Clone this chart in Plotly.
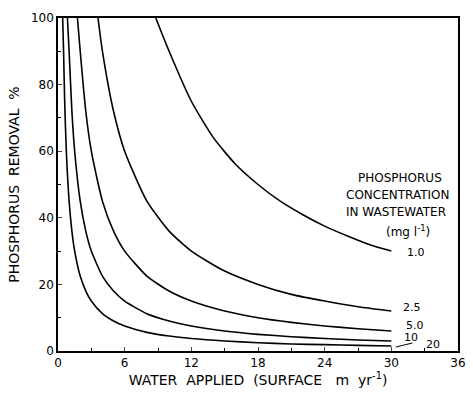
import plotly.graph_objects as go

# Phosphorus removal (%) vs water applied (m/yr)
x_c1 = [8.8, 10, 12, 14, 16, 18, 20, 22, 24, 26, 28, 30]
y_c1 = [100, 90, 75, 64, 56, 50, 45, 41, 37.5, 34.6, 32, 30]

x_c25 = [3.6, 4, 5, 6, 8, 10, 12, 15, 18, 21, 24, 27, 30]
y_c25 = [100, 90, 72, 60, 45, 36, 30, 24, 20, 17, 15, 13.3, 12]

x_c5 = [1.75, 2, 2.5, 3, 4, 5, 6, 8, 10, 12, 15, 18, 21, 24, 27, 30]
y_c5 = [100, 90, 72, 60, 45, 36, 30, 22.5, 18, 15, 12, 10, 8.6, 7.5, 6.7, 6]

x_c10 = [0.85, 1, 1.25, 1.5, 2, 2.5, 3, 4, 5, 6, 8, 10, 12, 15, 18, 21, 24, 27, 30]
y_c10 = [100, 90, 72, 60, 45, 36, 30, 22.5, 18, 15, 11.2, 9, 7.5, 6, 5, 4.3, 3.75, 3.3, 3]

x_c20 = [0.42, 0.5, 0.6, 0.75, 1, 1.25, 1.5, 2, 2.5, 3, 4, 5, 6, 8, 10, 12, 15, 18, 21, 24, 27, 30]
y_c20 = [100, 90, 75, 60, 45, 36, 30, 22.5, 18, 15, 11.2, 9, 7.5, 5.6, 4.5, 3.75, 3, 2.5, 2.1, 1.9, 1.7, 1.5]

curve_labels = ["1.0", "2.5", "5.0", "10", "20"]
label_x = [31.2, 30.9, 31.1, 31.0, 32.9]
label_y = [29.5, 13.2, 7.6, 4.1, 1.9]

x_ticks = [0, 6, 12, 18, 24, 30, 36]
y_ticks = [0, 20, 40, 60, 80, 100]

FONT = "DejaVu Sans"
fig = go.Figure()
for xs, ys in [(x_c1, y_c1), (x_c25, y_c25), (x_c5, y_c5), (x_c10, y_c10), (x_c20, y_c20)]:
    fig.add_trace(go.Scatter(x=xs, y=ys, mode="lines",
                             line=dict(color="black", width=1.6, shape="spline", smoothing=0.6),
                             showlegend=False, hoverinfo="skip"))

# leader line for the 20 label
fig.add_trace(go.Scatter(x=[30.4, 31.9], y=[1.2, 2.4], mode="lines",
                         line=dict(color="black", width=1), showlegend=False, hoverinfo="skip"))

for t, lx, ly in zip(curve_labels, label_x, label_y):
    fig.add_annotation(x=lx, y=ly, text=t, showarrow=False, xanchor="left",
                       yanchor="middle", height=11, valign="middle",
                       font=dict(family=FONT, size=11, color="black"))

legend_lines = ["PHOSPHORUS", "CONCENTRATION", "IN WASTEWATER", "(mg l<sup>-1</sup>)"]
legend_y = [52.0, 46.9, 41.8, 36.0]
legend_x = [30.8, 30.6, 30.4, 31.5]
for t, lx, ly in zip(legend_lines, legend_x, legend_y):
    fig.add_annotation(x=lx, y=ly, text=t, showarrow=False, xanchor="center",
                       font=dict(family=FONT, size=12, color="black"))

fig.update_layout(
    width=473, height=393,
    margin=dict(l=58, r=7, t=18, b=42),
    paper_bgcolor="white", plot_bgcolor="white",
    font=dict(family=FONT, size=12, color="black"),
)
fig.update_xaxes(range=[0, 36], tickvals=x_ticks, ticks="inside", ticklen=4,
                 showline=True, linecolor="black", linewidth=1.5, mirror=True,
                 showgrid=False, zeroline=False,
                 minor=dict(dtick=3, ticks="inside", ticklen=3, tickcolor="black"),
                 title=dict(text="WATER  APPLIED  (SURFACE   m  yr<sup>-1</sup>)", standoff=6,
                            font=dict(size=14)))
fig.update_yaxes(range=[0, 100], tickvals=y_ticks, ticks="inside", ticklen=4,
                 showline=True, linecolor="black", linewidth=1.5, mirror=True,
                 showgrid=False, zeroline=False,
                 minor=dict(dtick=10, ticks="inside", ticklen=3, tickcolor="black"),
                 title=dict(text="PHOSPHORUS  REMOVAL  %", standoff=8, font=dict(size=14)))

fig.write_html("out.html")
